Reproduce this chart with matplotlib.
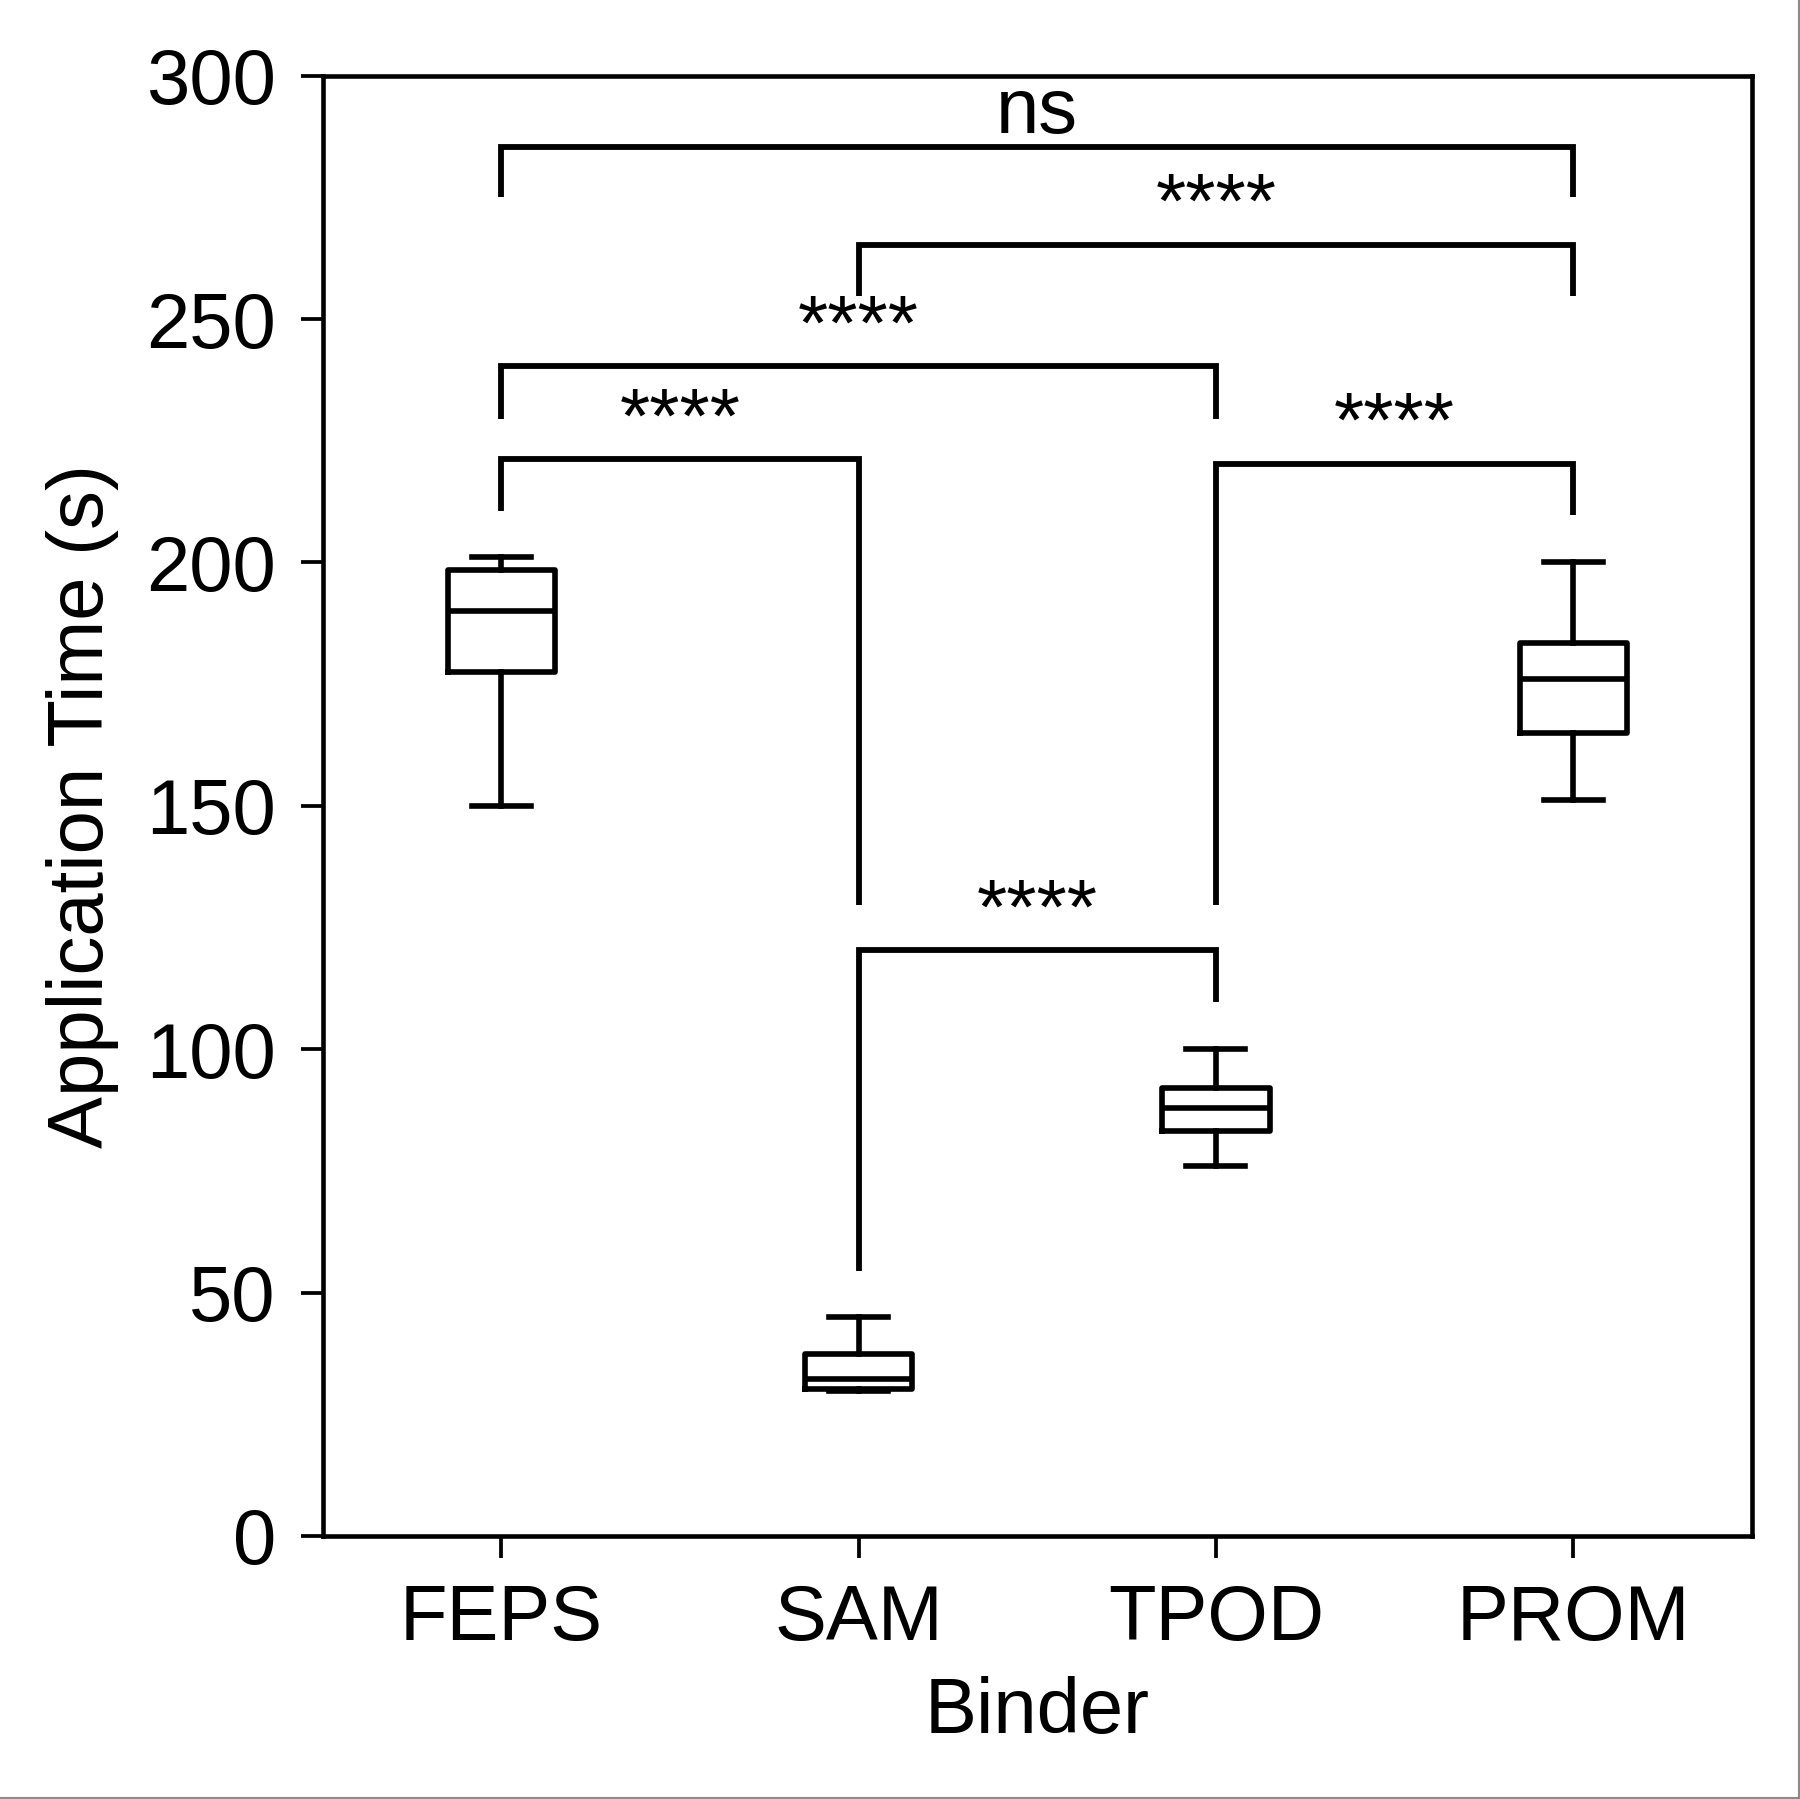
import matplotlib
matplotlib.use('Agg')
import matplotlib.pyplot as plt
from matplotlib.lines import Line2D

plt.rcParams['font.family'] = ['Liberation Sans', 'DejaVu Sans']

# Data
binders = ['FEPS', 'SAM', 'TPOD', 'PROM']
whisker_low = [150.0, 29.8, 76.0, 151.2]
q1 = [177.4, 30.3, 83.2, 164.9]
medians = [190.1, 32.3, 88.0, 176.0]
q3 = [198.5, 37.3, 92.0, 183.5]
whisker_high = [201.2, 45.0, 100.0, 200.2]

# significance brackets: left group, right group, bar height, left leg end, right leg end, label
bracket_left = [1, 2, 1, 1, 3, 2]
bracket_right = [4, 4, 3, 2, 4, 3]
bracket_y = [285.3, 265.3, 240.3, 221.2, 220.3, 120.3]
leg_left_end = [275.0, 254.7, 229.5, 210.6, 129.7, 54.5]
leg_right_end = [275.0, 254.7, 229.5, 129.7, 209.7, 109.7]
bracket_labels = ['ns', '****', '****', '****', '****', '****']

fs = 18.7

fig = plt.figure(figsize=(6, 1799 / 300), dpi=300)
ax = fig.add_axes([0.1792, 0.1462, 0.7941, 0.8117])

stats = []
for i, name in enumerate(binders):
    stats.append({'label': name, 'whislo': whisker_low[i], 'q1': q1[i],
                  'med': medians[i], 'q3': q3[i], 'whishi': whisker_high[i],
                  'fliers': []})

lw = 1.35
ax.bxp(stats, positions=[1, 2, 3, 4], widths=0.30, capwidths=0.165,
       showfliers=False,
       boxprops=dict(color='black', linewidth=lw),
       medianprops=dict(color='black', linewidth=lw),
       whiskerprops=dict(color='black', linewidth=lw),
       capprops=dict(color='black', linewidth=lw))

# brackets
for i in range(len(bracket_y)):
    xl, xr = bracket_left[i], bracket_right[i]
    yb = bracket_y[i]
    ax.plot([xl, xl, xr, xr], [leg_left_end[i], yb, yb, leg_right_end[i]],
            color='black', linewidth=1.4, solid_joinstyle='miter',
            solid_capstyle='butt', clip_on=False)
    off = 3.0 if bracket_labels[i] == 'ns' else 3.5
    ax.text((xl + xr) / 2, yb + off, bracket_labels[i], ha='center',
            va='baseline', fontsize=fs)

ax.set_xlim(0.5, 4.5)
ax.set_ylim(0, 300)
ax.set_yticks([0, 50, 100, 150, 200, 250, 300])
ax.set_xticks([1, 2, 3, 4])
ax.set_xticklabels(binders)

for sp in ax.spines.values():
    sp.set_linewidth(1.1)
ax.tick_params(axis='both', direction='out', length=5.2, width=0.9,
               pad=6, labelsize=fs, color='black')

ax.set_xlabel('Binder', fontsize=fs, labelpad=5)
ax.set_ylabel('Application Time (s)', fontsize=fs, labelpad=6.6)

# faint frame edge at right and bottom as in the source image
fig.add_artist(Line2D([0, 1], [0.0006, 0.0006], transform=fig.transFigure,
                      color='#8a8a8a', linewidth=0.5))
fig.add_artist(Line2D([0.9994, 0.9994], [0, 1], transform=fig.transFigure,
                      color='#8a8a8a', linewidth=0.5))

fig.savefig('out.png', dpi=300, facecolor='white')
